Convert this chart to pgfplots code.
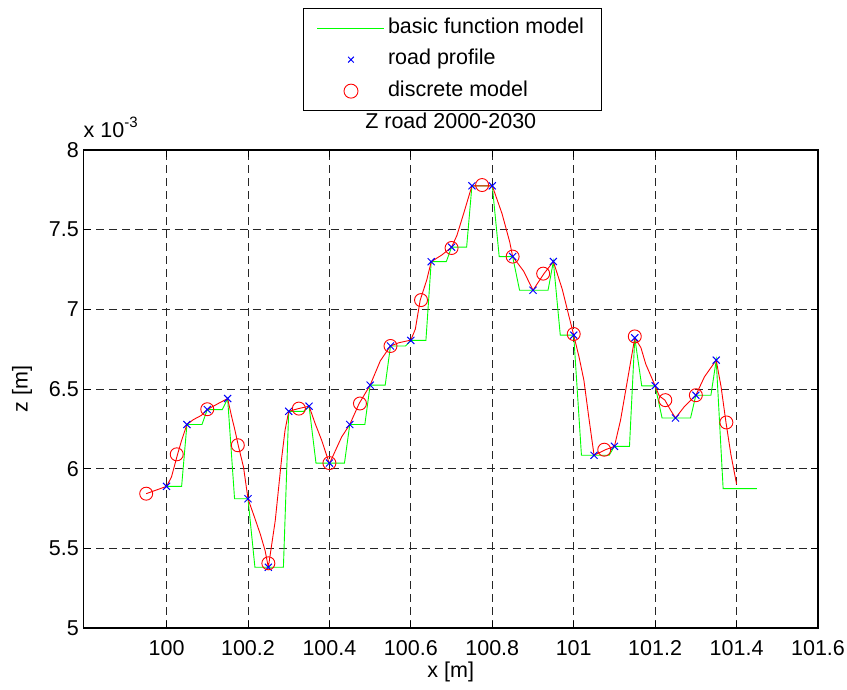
\documentclass[border=0pt]{standalone}
\usepackage{fontspec}
\setmainfont{Liberation Sans}
\usepackage{pgfplots}
\pgfplotsset{compat=1.18}
\definecolor{mgreen}{rgb}{0,1,0}
\definecolor{mblue}{rgb}{0,0,1}
\definecolor{mred}{rgb}{1,0,0}
\newcommand{\fs}{\fontsize{21.5}{25}\selectfont}
\begin{document}
\begin{tikzpicture}
\useasboundingbox (0,0) rectangle (847pt,689pt);
\begin{axis}[
  at={(83.5pt,61pt)}, anchor=south west,
  width=734.5pt, height=478pt, scale only axis,
  xmin=99.796, xmax=101.6, ymin=5, ymax=8,
  xtick={100,100.2,100.4,100.6,100.8,101,101.2,101.4,101.6},
  xticklabels={100,100.2,100.4,100.6,100.8,101,101.2,101.4,101.6},
  ytick={5,5.5,6,6.5,7,7.5,8},
  yticklabels={5,5.5,6,6.5,7,7.5,8},
  tick align=inside, major tick length=7pt,
  tick style={black, line width=0.8pt},
  grid=major,
  major grid style={black!85, line width=0.8pt, dash pattern=on 8pt off 5pt},
  axis line style={black, line width=1.2pt},
  every tick label/.append style={font=\fs},
  yticklabel style={inner sep=0pt, anchor=east, xshift=-4.5pt},
  xticklabel style={inner sep=0pt, anchor=center, yshift=-20pt},
  xlabel={x [m]}, ylabel={z [m]},
  label style={font=\fs},
  xlabel style={at={(axis description cs:0.5,-0.092)}, anchor=center},
  ylabel style={at={(axis description cs:-0.0837,0.5)}, anchor=center},
  title={Z road 2000-2030},
  title style={font=\fs, at={(axis description cs:0.5,1)}, anchor=center, yshift=23pt},
  legend style={font=\fs, at={(axis description cs:0.5017,1.2971)}, anchor=north,
    draw=black, line width=0.8pt, fill=white, inner xsep=14pt, inner ysep=4pt,
    nodes={text height=15.5pt, text depth=5pt, inner ysep=5.5pt, inner xsep=3pt},
    /tikz/every even column/.append style={column sep=0pt}},
  legend cell align=left,
  clip=false,
]
% basic function model (green step/ramp)
\addplot[color=mgreen, line width=0.9pt, mark=none,
  legend image code/.code={\draw[draw=mgreen, color=mgreen, line width=1.1pt] (0pt,0pt) -- (67pt,0pt);}]
coordinates {
(100.000,5.889) (100.037,5.889) (100.050,6.277)
(100.087,6.277) (100.100,6.371)
(100.137,6.371) (100.150,6.440)
(100.167,5.811) (100.200,5.811)
(100.217,5.381) (100.287,5.381) (100.300,6.360)
(100.337,6.360) (100.350,6.392)
(100.367,6.035) (100.437,6.035) (100.450,6.277)
(100.487,6.277) (100.500,6.524)
(100.537,6.524) (100.550,6.770)
(100.587,6.770) (100.600,6.805)
(100.637,6.805) (100.650,7.299)
(100.687,7.299) (100.700,7.390)
(100.737,7.390) (100.750,7.775)
(100.800,7.775)
(100.817,7.331) (100.850,7.331)
(100.867,7.120) (100.937,7.120) (100.950,7.300)
(100.967,6.838) (101.000,6.838)
(101.019,6.084) (101.087,6.084) (101.100,6.140)
(101.137,6.140) (101.150,6.821)
(101.167,6.520) (101.200,6.520)
(101.217,6.318) (101.287,6.318) (101.300,6.461)
(101.337,6.461) (101.350,6.681)
(101.367,5.875) (101.450,5.875)
};
\addlegendentry{basic function model}
% red model trajectory (no legend entry)
\addplot[color=mred, line width=0.9pt, mark=none, forget plot]
coordinates {
(99.950,5.843) (100.000,5.889) (100.012,5.947) (100.027,6.090) (100.037,6.178)
(100.050,6.277) (100.066,6.308) (100.086,6.335) (100.100,6.371) (100.127,6.409)
(100.150,6.440) (100.160,6.325) (100.168,6.241) (100.176,6.147) (100.189,6.010)
(100.200,5.811) (100.213,5.717) (100.230,5.591) (100.242,5.486) (100.250,5.381)
(100.267,5.675) (100.283,6.073) (100.291,6.241) (100.300,6.360) (100.324,6.377)
(100.350,6.392) (100.365,6.283) (100.381,6.178) (100.400,6.031) (100.430,6.199)
(100.450,6.277) (100.473,6.409) (100.500,6.524) (100.525,6.677) (100.550,6.770)
(100.570,6.790) (100.600,6.807) (100.611,6.876) (100.623,7.058) (100.639,7.184)
(100.650,7.299) (100.676,7.341) (100.700,7.390) (100.713,7.463) (100.730,7.604)
(100.750,7.775) (100.800,7.775) (100.824,7.600) (100.843,7.421) (100.850,7.331)
(100.877,7.240) (100.900,7.120) (100.927,7.224) (100.950,7.300) (100.972,7.125)
(100.988,6.960) (101.000,6.838) (101.013,6.702) (101.025,6.555) (101.037,6.323)
(101.050,6.084) (101.078,6.119) (101.100,6.140) (101.115,6.304) (101.132,6.555)
(101.150,6.821) (101.165,6.760) (101.177,6.656) (101.200,6.520) (101.210,6.457)
(101.224,6.430) (101.238,6.367) (101.250,6.318) (101.271,6.387) (101.300,6.461)
(101.321,6.576) (101.350,6.681) (101.362,6.513) (101.374,6.290) (101.386,6.090)
(101.400,5.903)
};
% road profile
\addplot[only marks, mark=x, mark size=5pt, color=mblue, line width=1pt,
  legend image code/.code={\path[draw=mblue, line width=0.9pt] plot[mark=x, mark size=4pt, only marks] coordinates {(33.5pt,0pt)};}]
coordinates {
(100.00,5.889) (100.05,6.277) (100.10,6.371) (100.15,6.440) (100.20,5.811)
(100.25,5.381) (100.30,6.360) (100.35,6.392) (100.40,6.035) (100.45,6.277)
(100.50,6.524) (100.55,6.770) (100.60,6.805) (100.65,7.299) (100.70,7.390)
(100.75,7.775) (100.80,7.775) (100.85,7.331) (100.90,7.120) (100.95,7.300)
(101.00,6.838) (101.05,6.084) (101.10,6.140) (101.15,6.821) (101.20,6.520)
(101.25,6.318) (101.30,6.461) (101.35,6.681)
};
\addlegendentry{road profile}
% discrete model
\addplot[only marks, mark=o, mark size=6.5pt, color=mred, line width=0.9pt,
  legend image code/.code={\path[draw=mred, line width=0.9pt] plot[mark=o, mark size=7pt, only marks] coordinates {(33.5pt,0pt)};}]
coordinates {
(99.950,5.843) (100.025,6.090) (100.100,6.373) (100.175,6.147) (100.250,5.406)
(100.325,6.377) (100.400,6.035) (100.475,6.409) (100.550,6.770) (100.625,7.058)
(100.700,7.385) (100.775,7.780) (100.850,7.331) (100.925,7.224) (101.000,6.845)
(101.075,6.119) (101.150,6.830) (101.225,6.430) (101.300,6.461) (101.375,6.290)
};
\addlegendentry{discrete model}
\node[anchor=base west, font=\fs, inner sep=0pt] at (axis description cs:0,1) [yshift=12pt]
  {x 10\raisebox{0.5em}{\fontsize{15}{17}\selectfont -3}};
\end{axis}
\end{tikzpicture}
\end{document}
